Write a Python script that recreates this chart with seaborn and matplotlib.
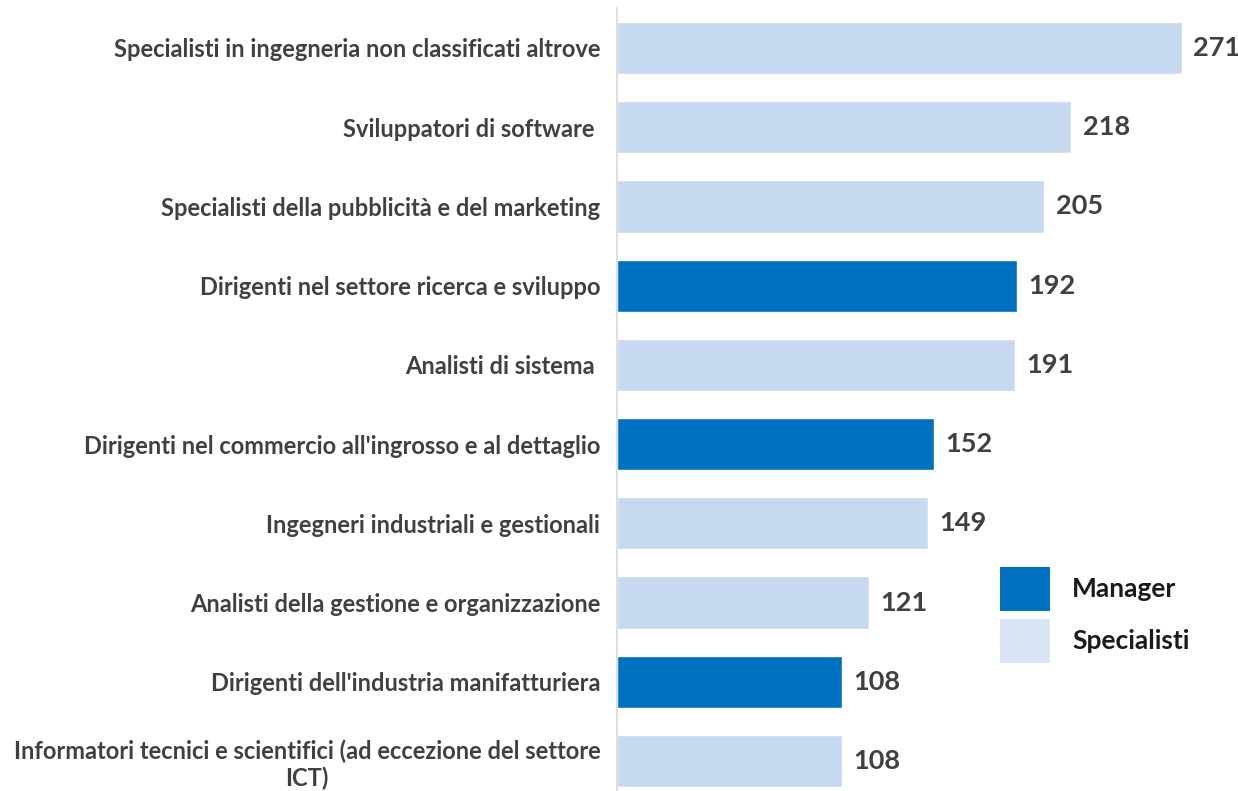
import matplotlib
matplotlib.use("Agg")
import matplotlib.pyplot as plt
import seaborn as sns
import pandas as pd
from matplotlib.patches import Patch

categories = [
    "Specialisti in ingegneria non classificati altrove",
    "Sviluppatori di software ",
    "Specialisti della pubblicità e del marketing",
    "Dirigenti nel settore ricerca e sviluppo",
    "Analisti di sistema ",
    "Dirigenti nel commercio all'ingrosso e al dettaglio",
    "Ingegneri industriali e gestionali",
    "Analisti della gestione e organizzazione",
    "Dirigenti dell'industria manifatturiera",
    "Informatori tecnici e scientifici (ad eccezione del settore\nICT)",
]
values = [271, 218, 205, 192, 191, 152, 149, 121, 108, 108]
groups = ["Specialisti", "Specialisti", "Specialisti", "Manager", "Specialisti",
          "Manager", "Specialisti", "Specialisti", "Manager", "Specialisti"]

df = pd.DataFrame({"cat": categories, "val": values, "grp": groups})

sns.set_style("white")
plt.rcParams["font.family"] = ["Lato", "DejaVu Sans"]

palette = {"Manager": "#0070C0", "Specialisti": "#C6D9F1"}

fig = plt.figure(figsize=(12.38, 7.91), dpi=100)
ax = fig.add_axes([617 / 1238, -0.0121, 1 - 617 / 1238, 1.0015])

sns.barplot(data=df, y="cat", x="val", hue="grp", palette=palette, dodge=False,
            order=categories, width=0.66, ax=ax, legend=False, saturation=1)

ax.set_xlim(0, 298)
ax.set_ylim(9.5, -0.5)
ax.set_xlabel("")
ax.set_ylabel("")
ax.set_xticks([])
for s in ["top", "right", "bottom"]:
    ax.spines[s].set_visible(False)
ax.spines["left"].set_color("#D9D9D9")
ax.spines["left"].set_linewidth(1.2)

ax.tick_params(axis="y", length=0, pad=12)
for lbl in ax.get_yticklabels():
    lbl.set_fontsize(17)
    lbl.set_fontweight("bold")
    lbl.set_color("#404040")
    lbl.set_multialignment("center")

for i, v in enumerate(values):
    ax.text(v + 5.5, i, str(v), va="center", ha="left", fontsize=19.5,
            fontweight="bold", color="#404040")

handles = [Patch(facecolor="#0070C0", edgecolor="none"),
           Patch(facecolor="#DAE4F2", edgecolor="none")]
leg = fig.legend(handles, ["Manager", "Specialisti"], loc="upper left",
                 bbox_to_anchor=(976.5 / 1238, 1 - 543 / 791), frameon=False,
                 handlelength=1.9, handleheight=2.2, handletextpad=0.83,
                 labelspacing=0.3, prop={"weight": "bold", "size": 19})
for t in leg.get_texts():
    t.set_color("#1a1a1a")

fig.savefig("out.png", dpi=100)
